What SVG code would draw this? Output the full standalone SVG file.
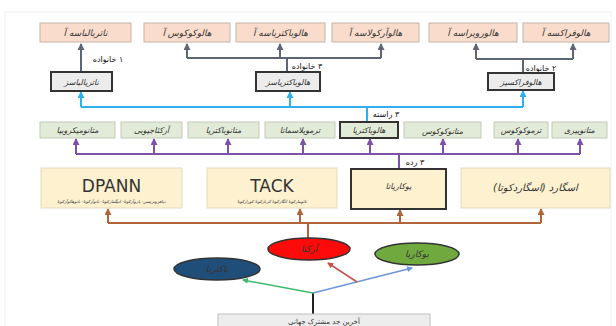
<svg xmlns="http://www.w3.org/2000/svg" width="616" height="326" viewBox="0 0 616 326">
<style>
text{font-family:"DejaVu Sans","Noto Sans",sans-serif;fill:#333;}
.fa{direction:rtl;unicode-bidi:embed;text-anchor:middle;font-style:italic;}
.t{font-size:9px;}
.m{font-size:8px;}
.lb{font-size:8px;fill:#111;font-style:normal;}
.top{fill:#f9dccb;stroke:#c4b4aa;stroke-width:1;}
.fam{fill:#ececec;stroke:#333;stroke-width:2;}
.grn{fill:#e1ebd7;stroke:#c2cbb9;stroke-width:1;}
.grnb{fill:#e1ebd7;stroke:#333;stroke-width:2;}
.yel{fill:#fdf1cf;stroke:#e2d9bf;stroke-width:1;}
.yelb{fill:#fdf1cf;stroke:#333;stroke-width:2;}
.cg{stroke:#5d6677;stroke-width:2;fill:none;}
.cb{stroke:#2fb0ec;stroke-width:2;fill:none;}
.cp{stroke:#7d50aa;stroke-width:2;fill:none;}
.cr{stroke:#b0643a;stroke-width:2;fill:none;}
</style>
<defs>
<marker id="ag" markerUnits="userSpaceOnUse" markerWidth="7" markerHeight="7" refX="6" refY="3.5" orient="auto"><path d="M0,0 L7,3.5 L0,7 z" fill="#5d6677"/></marker>
<marker id="ab" markerUnits="userSpaceOnUse" markerWidth="7" markerHeight="7" refX="6" refY="3.5" orient="auto"><path d="M0,0 L7,3.5 L0,7 z" fill="#2fb0ec"/></marker>
<marker id="ap" markerUnits="userSpaceOnUse" markerWidth="7" markerHeight="7" refX="6" refY="3.5" orient="auto"><path d="M0,0 L7,3.5 L0,7 z" fill="#7d50aa"/></marker>
<marker id="ar" markerUnits="userSpaceOnUse" markerWidth="7" markerHeight="7" refX="6" refY="3.5" orient="auto"><path d="M0,0 L7,3.5 L0,7 z" fill="#b0643a"/></marker>
<marker id="agr" markerUnits="userSpaceOnUse" markerWidth="6" markerHeight="6" refX="5" refY="3" orient="auto"><path d="M0,0 L6,3 L0,6 z" fill="#3cba6a"/></marker>
<marker id="abl" markerUnits="userSpaceOnUse" markerWidth="6" markerHeight="6" refX="5" refY="3" orient="auto"><path d="M0,0 L6,3 L0,6 z" fill="#6f95d8"/></marker>
<marker id="ard" markerUnits="userSpaceOnUse" markerWidth="6" markerHeight="6" refX="5" refY="3" orient="auto"><path d="M0,0 L6,3 L0,6 z" fill="#c8504a"/></marker>
</defs>
<rect x="5" y="12" width="606" height="320" fill="none" stroke="#f2f2f2" stroke-width="1"/>

<g id="connectors">
<path class="cg" d="M81,72 V44" marker-end="url(#ag)"/>
<path class="cg" d="M287,72 V58 M187,58 H381"/>
<path class="cg" d="M187,58 V44" marker-end="url(#ag)"/>
<path class="cg" d="M280,58 V44" marker-end="url(#ag)"/>
<path class="cg" d="M381,58 V44" marker-end="url(#ag)"/>
<path class="cg" d="M523,73 V59 M476,59 H573"/>
<path class="cg" d="M476,59 V44" marker-end="url(#ag)"/>
<path class="cg" d="M573,59 V44" marker-end="url(#ag)"/>

<path class="cb" d="M81,107 H523 M367,107 V122"/>
<path class="cb" d="M81,107 V92" marker-end="url(#ab)"/>
<path class="cb" d="M290,107 V92" marker-end="url(#ab)"/>
<path class="cb" d="M523,107 V91" marker-end="url(#ab)"/>

<path class="cp" d="M76,154 H580 M399,154 V169"/>
<path class="cp" d="M76,154 V139" marker-end="url(#ap)"/>
<path class="cp" d="M154,154 V139" marker-end="url(#ap)"/>
<path class="cp" d="M228,154 V139" marker-end="url(#ap)"/>
<path class="cp" d="M303,154 V139" marker-end="url(#ap)"/>
<path class="cp" d="M370,154 V139" marker-end="url(#ap)"/>
<path class="cp" d="M443,154 V139" marker-end="url(#ap)"/>
<path class="cp" d="M518,154 V139" marker-end="url(#ap)"/>
<path class="cp" d="M580,154 V139" marker-end="url(#ap)"/>

<path class="cr" d="M108,223 H541 M308,223 V238"/>
<path class="cr" d="M108,223 V209" marker-end="url(#ar)"/>
<path class="cr" d="M300,223 V209" marker-end="url(#ar)"/>
<path class="cr" d="M400,223 V210" marker-end="url(#ar)"/>
<path class="cr" d="M541,223 V209" marker-end="url(#ar)"/>

<path d="M313,314 V293" stroke="#222" stroke-width="2" fill="none"/>
<path d="M313,293 L243,280" stroke="#3cba6a" stroke-width="1.5" fill="none" marker-end="url(#agr)"/>
<path d="M313,293 L412,268" stroke="#6f95d8" stroke-width="1.5" fill="none" marker-end="url(#abl)"/>
<path d="M357,282 L328,263" stroke="#c8504a" stroke-width="1.5" fill="none" marker-end="url(#ard)"/>

<text class="fa lb" x="108" y="62">۱ خانواده</text>
<text class="fa lb" x="307" y="69">۳ خانواده</text>
<text class="fa lb" x="541" y="71">۲ خانواده</text>
<text class="fa lb" x="386" y="117">۳ راسته</text>
<text class="fa lb" x="415" y="165">۳ رده</text>
</g>

<g id="n-natrialbaceae-a"><rect class="top" x="40" y="23" width="91" height="19"/><text class="fa t" x="85.5" y="35.5">ناتریالباسه آ</text></g>
<g id="n-halococcus-a"><rect class="top" x="144" y="23" width="86" height="19"/><text class="fa t" x="187" y="35.5">هالوکوکوس آ</text></g>
<g id="n-halobacteriaceae-a"><rect class="top" x="236" y="23" width="89" height="19"/><text class="fa t" x="280.5" y="35.5">هالوباکتریاسه آ</text></g>
<g id="n-haloarculaceae-a"><rect class="top" x="332" y="23" width="87" height="19"/><text class="fa t" x="375.5" y="35.5">هالوآرکولاسه آ</text></g>
<g id="n-halorubraceae-a"><rect class="top" x="429" y="23" width="88" height="19"/><text class="fa t" x="473" y="35.5">هالورویراسه آ</text></g>
<g id="n-haloferacaceae-a"><rect class="top" x="523" y="23" width="86" height="19"/><text class="fa t" x="566" y="35.5">هالوفراکسه آ</text></g>

<g id="n-natrialbales"><rect class="fam" x="51" y="72" width="61" height="19"/><text class="fa m" x="81.5" y="84.5">ناتریالباسز</text></g>
<g id="n-halobacteriales"><rect class="fam" x="256" y="72" width="64" height="19"/><text class="fa m" x="288" y="84.5">هالوباکتریاسز</text></g>
<g id="n-haloferacales"><rect class="fam" x="488" y="73" width="66" height="17"/><text class="fa m" x="521" y="84.5">هالوفراکسیز</text></g>

<g id="n-methanomicrobia"><rect class="grn" x="40" y="122" width="75" height="16"/><text class="fa m" x="77.5" y="133">متانومیکروبیا</text></g>
<g id="n-archaeoglobi"><rect class="grn" x="121" y="122" width="61" height="16"/><text class="fa m" x="151.5" y="133">آرکئاجیوبی</text></g>
<g id="n-methanobacteria"><rect class="grn" x="188" y="122" width="71" height="16"/><text class="fa m" x="223.5" y="133">متانوباکتریا</text></g>
<g id="n-thermoplasmata"><rect class="grn" x="265" y="122" width="70" height="16"/><text class="fa m" x="300" y="133">ترموپلاسماتا</text></g>
<g id="n-halobacteria"><rect class="grnb" x="340" y="122" width="58" height="16"/><text class="fa m" x="369" y="133">هالوباکتریا</text></g>
<g id="n-methanococci"><rect class="grn" x="404" y="122" width="77" height="16"/><text class="fa m" x="442.5" y="134">متانوکوکوس</text></g>
<g id="n-thermococci"><rect class="grn" x="494" y="122" width="54" height="16"/><text class="fa m" x="521" y="133">ترموکوکوس</text></g>
<g id="n-methanopyri"><rect class="grn" x="552" y="122" width="55" height="16"/><text class="fa m" x="579.5" y="133">متانوپیری</text></g>

<g id="n-dpann"><rect class="yel" x="41" y="168" width="141" height="40"/><text x="111.5" y="192" text-anchor="middle" font-size="17" fill="#222">DPANN</text><text class="fa" x="111.5" y="203" font-size="4.3">دیافروتریتس- پاروآرکوتا- انیگمارکوتا- نانوآرکوتا- نانوهالوآرکوتا</text></g>
<g id="n-tack"><rect class="yel" x="207" y="168" width="130" height="40"/><text x="272" y="192" text-anchor="middle" font-size="17" fill="#222">TACK</text><text class="fa" x="272" y="203" font-size="4.3">تائومارکوتا  ائگارکوتا  کرنارکوتا  کورارکوتا</text></g>
<g id="n-eukaryota"><rect class="yelb" x="351" y="169" width="95" height="40"/><text class="fa m" x="398.5" y="189">یوکاریاتا</text></g>
<g id="n-asgard"><rect class="yel" x="461" y="168" width="149" height="40"/><text class="fa" x="535.5" y="191" font-size="10">اسگارد (اسگاردکوتا)</text></g>

<g id="n-archaea"><ellipse cx="309" cy="249" rx="41" ry="11" fill="#ff0a0a" stroke="#333" stroke-width="1.5"/><text class="fa" x="309" y="252" font-size="9" fill="#8b0000">آرکئا</text></g>
<g id="n-eukarya"><ellipse cx="417" cy="254" rx="42" ry="11" fill="#70aa3e" stroke="#333" stroke-width="1.5"/><text class="fa" x="417" y="257" font-size="9" fill="#1f3d10">یوکاریا</text></g>
<g id="n-bacteria"><ellipse cx="217" cy="269" rx="43" ry="11" fill="#1f4e79" stroke="#333" stroke-width="1.5"/><text class="fa" x="217" y="272" font-size="9" fill="#9db8d6">باکتریا</text></g>

<g id="n-luca"><rect x="218" y="314" width="212" height="16" fill="#ededed" stroke="#bdbdbd" stroke-width="1"/><text class="fa" x="324" y="324" font-size="7" style="font-style:normal">آخرین جد مشترک جهانی</text></g>
</svg>
